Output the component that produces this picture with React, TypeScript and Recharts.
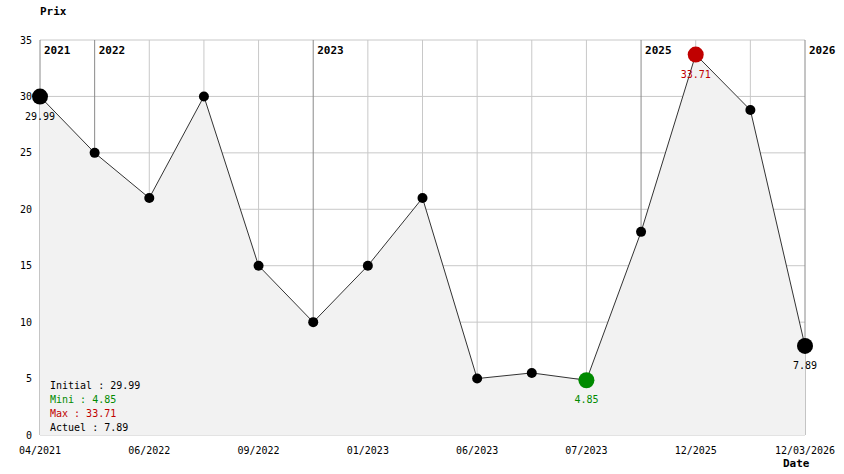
import { ComposedChart, Area, XAxis, YAxis, CartesianGrid } from 'recharts'

const tickLabels = ['04/2021', '06/2022', '09/2022', '01/2023', '06/2023', '07/2023', '12/2025', '12/03/2026']
const prices = [29.99, 25, 21, 30, 15, 10, 15, 21, 5, 5.5, 4.85, 18, 33.71, 28.8, 7.89]
const yearIdx = [0, 1, 5, 11, 14]
const yearLabels = ['2021', '2022', '2023', '2025', '2026']
const yTicks = [0, 5, 10, 15, 20, 25, 30, 35]

const data = prices.map((v, i) => ({ i, v }))

const MONO = '"DejaVu Sans Mono", monospace'
const GREEN = '#008a00'
const RED = '#c00000'

const first = 0
const last = prices.length - 1
const minIdx = prices.indexOf(Math.min(...prices))
const maxIdx = prices.indexOf(Math.max(...prices))

const dotColor = (i: number) => (i === minIdx ? GREEN : i === maxIdx ? RED : '#000')

const Dot = (p: any) => {
  const big = p.index === first || p.index === last || p.index === minIdx || p.index === maxIdx
  return <circle key={p.index} cx={p.cx} cy={p.cy} r={big ? 8 : 5} fill={dotColor(p.index)} />
}

const ValueLabel = (p: any) => {
  const i = p.index
  if (i !== first && i !== last && i !== minIdx && i !== maxIdx) return null
  return (
    <text key={i} x={p.x} y={p.y + 23} textAnchor="middle" fontFamily={MONO} fontSize={10} fill={dotColor(i)}>
      {prices[i].toFixed(2)}
    </text>
  )
}

const VLine = (p: any) => {
  const k = yearIdx.indexOf(p.index)
  return (
    <g key={p.index}>
      <line x1={p.x1} y1={p.y1} x2={p.x2} y2={p.y2} stroke={k >= 0 ? '#8a8a8a' : '#c8c8c8'} strokeWidth={1} />
      {k >= 0 && (
        <text x={p.x1 + 4} y={p.y1 + 14} fontFamily={MONO} fontSize={11} fontWeight="bold" fill="#000">
          {yearLabels[k]}
        </text>
      )}
    </g>
  )
}

export default function App() {
  const stats = [
    { t: `Initial : ${prices[first]}`, c: '#000' },
    { t: `Mini : ${prices[minIdx]}`, c: GREEN },
    { t: `Max : ${prices[maxIdx]}`, c: RED },
    { t: `Actuel : ${prices[last]}`, c: '#000' },
  ]
  return (
    <div style={{ position: 'absolute', left: 0, top: 0, width: 844, height: 474, background: '#fff', fontFamily: MONO }}>
      <ComposedChart width={844} height={474} data={data} margin={{ top: 40, right: 39, left: 0, bottom: 0 }}>
        <CartesianGrid stroke="#c8c8c8" vertical={VLine} />
        <XAxis
          dataKey="i"
          type="category"
          interval={0}
          height={39}
          axisLine={false}
          tickLine={false}
          tickMargin={6}
          tick={{ fontSize: 10, fontFamily: MONO, fill: '#000' }}
          tickFormatter={(v: number) => (v % 2 === 0 ? tickLabels[v / 2] : '')}
        />
        <YAxis
          width={40}
          domain={[0, 35]}
          ticks={yTicks}
          axisLine={false}
          tickLine={false}
          tick={{ fontSize: 10, fontFamily: MONO, fill: '#000' }}
        />
        <Area
          type="linear"
          dataKey="v"
          stroke="#333"
          strokeWidth={1}
          fill="#f2f2f2"
          fillOpacity={1}
          dot={Dot}
          activeDot={false}
          label={ValueLabel}
          isAnimationActive={false}
        />
      </ComposedChart>
      <div style={{ position: 'absolute', left: 40, top: 5, fontSize: 11, fontWeight: 'bold' }}>Prix</div>
      <div style={{ position: 'absolute', left: 783, top: 457, fontSize: 11, fontWeight: 'bold' }}>Date</div>
      <div style={{ position: 'absolute', left: 50, top: 379, fontSize: 10, lineHeight: '14px' }}>
        {stats.map((s) => (
          <div key={s.t} style={{ color: s.c }}>{s.t}</div>
        ))}
      </div>
    </div>
  )
}
